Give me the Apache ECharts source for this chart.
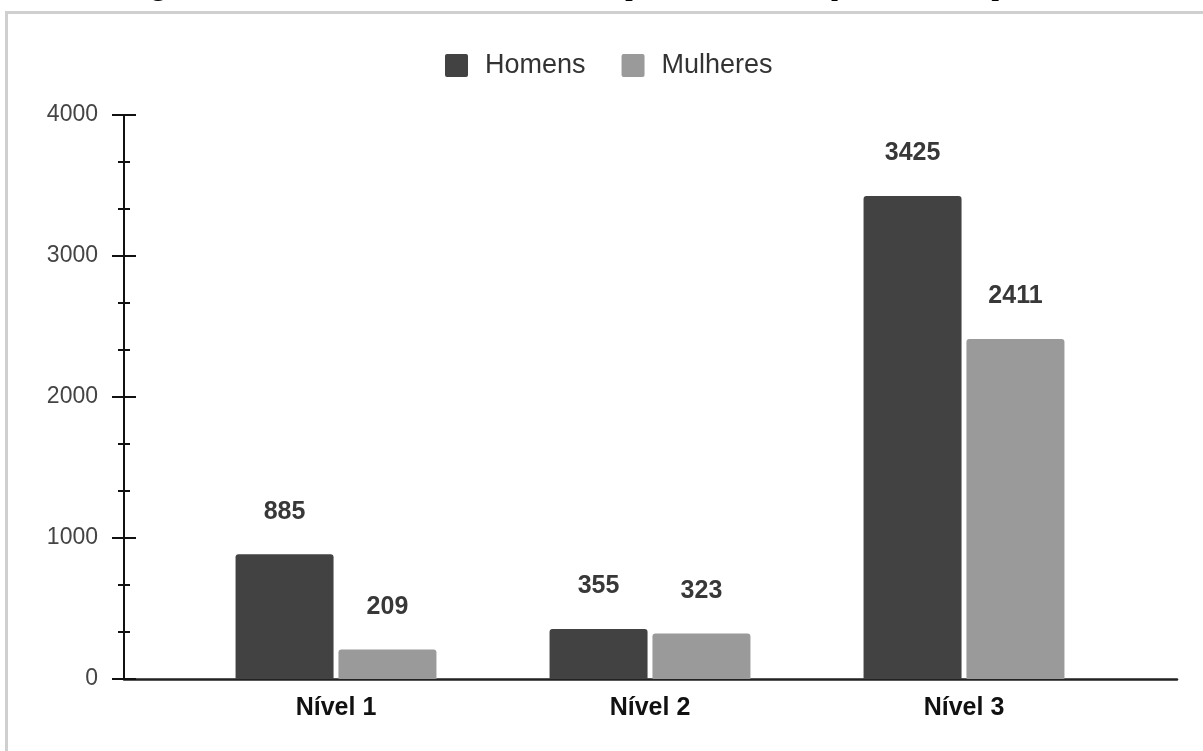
<!DOCTYPE html>
<html>
<head>
<meta charset="utf-8">
<title>Quantidade de funcionários por nível</title>
<script src="https://cdn.jsdelivr.net/npm/echarts@6/dist/echarts.min.js"></script>
<style>
  html, body { margin: 0; padding: 0; background: #ffffff; }
  #chart { width: 1203px; height: 751px; }
</style>
</head>
<body>
<div id="chart"></div>
<script>
// Employees per hierarchy level, split by gender
const categories = ['Nível 1', 'Nível 2', 'Nível 3'];
const seriesNames = ['Homens', 'Mulheres'];
const homens = [885, 355, 3425];
const mulheres = [209, 323, 2411];
const yTicks = [0, 1000, 2000, 3000, 4000];
const caption = 'Figura 6 – Quantidade de funcionários por nível hierárquico das empresas.';

const FONT = 'Liberation Sans, Arial, sans-serif';
const DARK = '#424242';
const LIGHT = '#9a9a9a';
const yMin = yTicks[0];
const yMax = yTicks[yTicks.length - 1];
const yStep = yTicks[1] - yTicks[0];

// small square with slightly rounded corners for the legend
const legendIcon = 'path://M2,0H21A2,2,0,0,1,23,2V21A2,2,0,0,1,21,23H2A2,2,0,0,1,0,21V2A2,2,0,0,1,2,0Z';

const chart = echarts.init(document.getElementById('chart'), null, { renderer: 'canvas' });

const barLabel = {
  show: true,
  position: 'top',
  distance: 30,
  fontFamily: FONT,
  fontSize: 25,
  fontWeight: 'bold',
  color: '#383838'
};

const tickStyle = { color: '#111111', width: 2 };

const valueAxisBase = {
  type: 'value',
  gridIndex: 1,
  position: 'left',
  min: yMin,
  max: yMax,
  interval: yStep,
  splitLine: { show: false },
  axisLine: { show: true, lineStyle: { color: '#111111', width: 2 } }
};

chart.setOption({
  animation: false,
  backgroundColor: '#ffffff',
  legend: {
    top: 47,
    left: 440,
    itemWidth: 23,
    itemHeight: 23,
    itemGap: 36,
    icon: legendIcon,
    textStyle: { fontFamily: FONT, fontSize: 27, color: '#333333', padding: [0, 0, 0, 12] },
    data: seriesNames
  },
  grid: [
    // grid for the bars
    { left: 179, right: 82, top: 115, bottom: 72 },
    // grid for the full-width axes
    { left: 124, right: 26, top: 115, bottom: 72 }
  ],
  xAxis: [
    {
      type: 'category',
      gridIndex: 0,
      data: categories,
      axisLine: { show: false },
      axisTick: { show: false },
      axisLabel: {
        margin: 17,
        fontFamily: FONT,
        fontSize: 25,
        fontWeight: 'bold',
        color: '#111111'
      }
    },
    {
      type: 'value',
      gridIndex: 1,
      min: 0,
      max: 1,
      axisLine: { show: true, lineStyle: { color: '#222222', width: 2.5 } },
      axisTick: { show: false },
      axisLabel: { show: false },
      splitLine: { show: false }
    }
  ],
  yAxis: [
    {
      type: 'value',
      gridIndex: 0,
      min: yMin,
      max: yMax,
      interval: yStep,
      show: false
    },
    Object.assign({}, valueAxisBase, {
      axisTick: { show: true, length: 12, lineStyle: tickStyle },
      minorTick: { show: true, splitNumber: 3, length: 6, lineStyle: tickStyle },
      axisLabel: {
        margin: 26,
        fontFamily: FONT,
        fontSize: 23,
        color: '#444444',
        formatter: function (v) { return String(v); }
      }
    }),
    Object.assign({}, valueAxisBase, {
      axisTick: { show: true, inside: true, length: 12, lineStyle: tickStyle },
      minorTick: { show: true, splitNumber: 3, length: 6, lineStyle: tickStyle },
      axisLabel: { show: false }
    })
  ],
  series: [
    {
      name: seriesNames[0],
      type: 'bar',
      xAxisIndex: 0,
      yAxisIndex: 0,
      data: homens,
      barWidth: 98,
      barGap: '5%',
      itemStyle: { color: DARK, borderRadius: [3, 3, 0, 0] },
      label: barLabel
    },
    {
      name: seriesNames[1],
      type: 'bar',
      xAxisIndex: 0,
      yAxisIndex: 0,
      data: mulheres,
      barWidth: 98,
      barGap: '5%',
      itemStyle: { color: LIGHT, borderRadius: [3, 3, 0, 0] },
      label: barLabel
    }
  ],
  graphic: [
    // page frame
    {
      type: 'rect',
      silent: true,
      shape: { x: 6.5, y: 12.5, width: 1300, height: 900 },
      style: { fill: null, stroke: '#cfcfcf', lineWidth: 3 }
    },
    // caption above the frame, partly off the page
    {
      type: 'text',
      silent: true,
      left: 'center',
      top: -30,
      style: {
        text: caption,
        font: '32px "Liberation Serif", "Times New Roman", serif',
        fill: '#000000'
      }
    }
  ]
});
</script>
</body>
</html>
